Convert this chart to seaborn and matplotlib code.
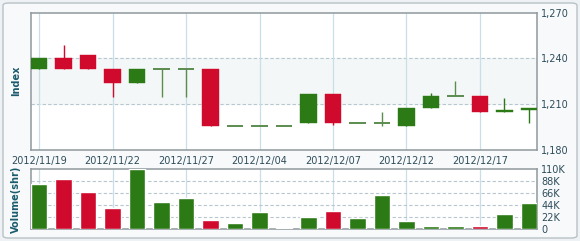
import matplotlib
matplotlib.use("Agg")
import matplotlib.pyplot as plt
from matplotlib.patches import FancyBboxPatch
import seaborn as sns
import pandas as pd
import numpy as np

dates = ["2012/11/19", "2012/11/20", "2012/11/21", "2012/11/22", "2012/11/23",
         "2012/11/26", "2012/11/27", "2012/11/28", "2012/11/30", "2012/12/04",
         "2012/12/05", "2012/12/06", "2012/12/07", "2012/12/10", "2012/12/11",
         "2012/12/12", "2012/12/13", "2012/12/14", "2012/12/17", "2012/12/18",
         "2012/12/19"]
open_ = [1233, 1240, 1242, 1233, 1224, 1233, 1233, 1233, 1196, 1196, 1196,
         1198, 1216.5, 1198, 1198, 1196, 1207.5, 1215.5, 1215.5, 1205, 1206.5]
close = [1240, 1233, 1233, 1224, 1233, 1233, 1233, 1196, 1196, 1196, 1196,
         1216.5, 1198, 1198, 1198, 1207.5, 1215.5, 1215.5, 1205, 1206, 1207.5]
high = [1240, 1249, 1242, 1233, 1233, 1233, 1233, 1233, 1196, 1196, 1196,
        1216.5, 1216.5, 1198, 1205, 1207.5, 1217, 1225, 1215.5, 1214, 1207.5]
low = [1233, 1233, 1233, 1215, 1224, 1215, 1215, 1196, 1196, 1196, 1196,
       1198, 1196.5, 1198, 1196, 1196, 1207.5, 1215.5, 1205, 1205, 1197.5]
volume_k = [82, 91.5, 68, 39, 110, 49.5, 57, 16, 11.5, 31, 2.4,
            22.5, 33, 21, 61.5, 14.5, 5.5, 5.5, 5.5, 27, 47]
tick_idx = [0, 3, 6, 9, 12, 15, 18]
price_ticks = [1180, 1210, 1240, 1270]
vol_ticks = [0, 22, 44, 66, 88, 110]

GREEN = "#2b7a16"
RED = "#cf0a2c"
DOJI = "#5b8c4e"
LABEL = "#2e4d5c"
AXLAB = "#1c5b6e"

sns.set_style("white")
plt.rcParams["font.family"] = ["DejaVu Sans"]

W, H = 580, 241
fig = plt.figure(figsize=(W / 100, H / 100), dpi=100)
fig.patch.set_facecolor("#eef2f4")
fig.patches.append(FancyBboxPatch((3 / W, 3 / H), 1 - 6 / W, 1 - 6 / H,
                                  boxstyle="round,pad=0,rounding_size=0.01",
                                  transform=fig.transFigure, facecolor="#f7f9fa",
                                  edgecolor="#b9c2c7", lw=1.0, zorder=-5))

def axes_rect(x0, y0, x1, y1):
    return [x0 / W, 1 - y1 / H, (x1 - x0) / W, (y1 - y0) / H]

ax = fig.add_axes(axes_rect(31, 12.5, 537, 150))
axv = fig.add_axes(axes_rect(31, 169, 537, 229))

n = len(dates)
x = np.arange(n)
df = pd.DataFrame({"date": dates, "open": open_, "close": close, "high": high,
                   "low": low, "vol": volume_k})
df["dir"] = np.where(df["close"] > df["open"], "up",
                     np.where(df["close"] < df["open"], "down", "flat"))
df["vdir"] = np.where(df["dir"] == "down", "down", "up")
cmap = {"up": GREEN, "down": RED, "flat": DOJI}
vmap = {"up": GREEN, "down": RED}

# price panel
ax.set_facecolor("white")
ax.axhspan(1210, 1240, color="#f4f7f8", zorder=0)
for v in [1210, 1240]:
    ax.axhline(v, color="#b7c7cf", lw=0.8, ls=(0, (3, 2)), zorder=1)
for i in tick_idx:
    ax.axvline(i, color="#c9dfe8", lw=0.9, zorder=1)
    axv.axvline(i, color="#c9dfe8", lw=0.9, zorder=1)

bw = 0.66
for i, r in df.iterrows():
    c = cmap[r["dir"]]
    ax.vlines(i, r["low"], r["high"], color=c, lw=1.0, zorder=2)
    if r["dir"] == "flat":
        ax.hlines(r["open"], i - bw / 2, i + bw / 2, color=c, lw=1.4, zorder=3)
    else:
        b = min(r["open"], r["close"])
        hgt = abs(r["close"] - r["open"])
        ax.bar(i, hgt, bottom=b, width=bw, color=c, edgecolor=c, lw=0.3, zorder=3)

ax.set_xlim(-0.33, n - 1 + 0.33)
ax.set_ylim(1180, 1270)
ax.yaxis.tick_right()
ax.set_yticks(price_ticks)
ax.set_yticklabels([f"{v:,}" for v in price_ticks])
ax.set_xticks(tick_idx)
ax.set_xticklabels([dates[i] for i in tick_idx])
ax.tick_params(axis="both", length=0, labelsize=7, colors=LABEL, pad=3)
ax.tick_params(axis="x", pad=4)
ax.set_ylabel("Index", fontsize=7, fontweight="bold", color=AXLAB, labelpad=7)

# volume panel
axv.set_facecolor("white")
for v in vol_ticks[1:-1]:
    axv.axhline(v, color="#b7c7cf", lw=0.8, ls=(0, (3, 2)), zorder=1)
sns.barplot(data=df, x=x, y="vol", hue="vdir", palette=vmap, width=bw,
            dodge=False, legend=False, ax=axv, zorder=3, saturation=1)
axv.set_xlim(-0.33, n - 1 + 0.33)
axv.set_ylim(0, 110)
axv.yaxis.tick_right()
axv.set_yticks(vol_ticks)
axv.set_yticklabels([f"{v}K" if v else "0" for v in vol_ticks])
axv.set_xticks([])
axv.set_xlabel("")
axv.tick_params(axis="both", length=0, labelsize=7, colors=LABEL, pad=3)
axv.set_ylabel("Volume(shr)", fontsize=7, fontweight="bold", color=AXLAB, labelpad=7)

for a in (ax, axv):
    for s in a.spines.values():
        s.set_color("#8f999e")
        s.set_linewidth(1.1)
        s.set_visible(True)
    a.yaxis.set_label_position("left")

fig.savefig("out.png", dpi=100, facecolor=fig.get_facecolor())
